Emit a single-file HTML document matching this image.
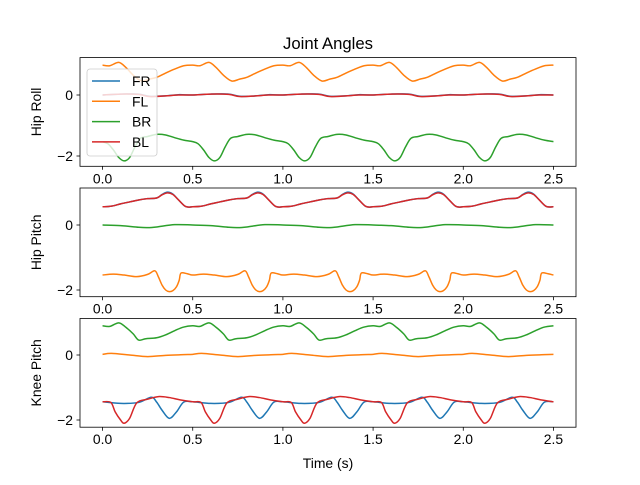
<!DOCTYPE html>
<html><head><meta charset="utf-8"><style>
body{margin:0;background:#fff}
svg text{font-family:"Liberation Sans","DejaVu Sans",sans-serif;fill:#000}
</style></head><body>
<svg id="fig" width="640" height="480" xmlns="http://www.w3.org/2000/svg">
<rect width="640" height="480" fill="#fff"/>
<text x="328" y="49" font-size="16.7" text-anchor="middle">Joint Angles</text>
<text x="328" y="468" font-size="13.9" text-anchor="middle">Time (s)</text>
</svg>
<script>
// data (one gait cycle of 0.5 s, repeated for 5 cycles)
const cycleLength = 0.5;
const cycleCount = 5;
const seriesNames = ["FR","FL","BR","BL"];
const seriesColors = ["#1f77b4","#ff7f0e","#2ca02c","#d62728"];
const xTicks = [0.0,0.5,1.0,1.5,2.0,2.5];
const yTicks = [0,-2];
const panelLabels = ["Hip Roll","Hip Pitch","Knee Pitch"];

// Hip Roll
const hrFRPhase = [0,0.1,0.2,0.26,0.35,0.42,0.5];
const hrFRVal   = [0.0,0.03,0.03,-0.04,-0.03,0.01,0.0];
const hrFLPhase = [0,0.04,0.09,0.13,0.17,0.216,0.26,0.3,0.35,0.4,0.45,0.5];
const hrFLVal   = [0.98,0.96,1.07,0.9,0.65,0.46,0.52,0.58,0.72,0.85,0.96,0.98];
const hrBRPhase = [0,0.03,0.06,0.09,0.12,0.15,0.18,0.21,0.25,0.3,0.35,0.4,0.45,0.5];
const hrBRVal   = [-1.53,-1.6,-1.8,-2.05,-2.16,-2.05,-1.7,-1.42,-1.36,-1.29,-1.31,-1.4,-1.48,-1.53];
const hrBLPhase = [0,0.1,0.2,0.26,0.35,0.42,0.5];
const hrBLVal   = [0.0,0.03,0.02,-0.05,-0.03,0.0,0.0];

// Hip Pitch
const hpFRPhase = [0,0.05,0.1,0.15,0.2,0.25,0.3,0.33,0.36,0.39,0.42,0.46,0.5];
const hpFRVal   = [0.56,0.58,0.65,0.71,0.77,0.81,0.83,0.94,1.01,0.95,0.78,0.57,0.56];
const hpFLPhase = [0,0.06,0.12,0.19,0.25,0.29,0.31,0.33,0.35,0.37,0.39,0.41,0.425,0.435,0.47,0.5];
const hpFLVal   = [-1.54,-1.51,-1.54,-1.59,-1.52,-1.41,-1.6,-1.85,-2.0,-2.05,-2.02,-1.9,-1.7,-1.48,-1.5,-1.54];
const hpBRPhase = [0,0.1,0.2,0.25,0.3,0.4,0.5];
const hpBRVal   = [0.0,-0.02,-0.07,-0.08,-0.06,0.01,0.0];
const hpBLPhase = [0,0.05,0.1,0.15,0.2,0.25,0.3,0.33,0.36,0.39,0.42,0.46,0.5];
const hpBLVal   = [0.56,0.58,0.65,0.71,0.77,0.81,0.83,0.93,0.99,0.94,0.78,0.57,0.56];

// Knee Pitch
const kpFRPhase = [0,0.1,0.2,0.27,0.3,0.33,0.37,0.41,0.45,0.5];
const kpFRVal   = [-1.44,-1.49,-1.46,-1.3,-1.45,-1.7,-1.95,-1.75,-1.45,-1.44];
const kpFLPhase = [0,0.05,0.15,0.25,0.35,0.45,0.5];
const kpFLVal   = [0.02,0.05,0.0,-0.05,-0.01,0.01,0.02];
const kpBRPhase = [0,0.04,0.09,0.13,0.17,0.2,0.24,0.3,0.35,0.4,0.45,0.5];
const kpBRVal   = [0.9,0.88,0.99,0.85,0.65,0.46,0.5,0.53,0.62,0.75,0.86,0.9];
const kpBLPhase = [0,0.046,0.07,0.1,0.12,0.15,0.19,0.25,0.31,0.37,0.43,0.5];
const kpBLVal   = [-1.44,-1.46,-1.75,-2.0,-2.1,-1.95,-1.47,-1.36,-1.28,-1.31,-1.38,-1.44];

const panelSeries = [
  [[hrFRPhase,hrFRVal],[hrFLPhase,hrFLVal],[hrBRPhase,hrBRVal],[hrBLPhase,hrBLVal]],
  [[hpFRPhase,hpFRVal],[hpFLPhase,hpFLVal],[hpBRPhase,hpBRVal],[hpBLPhase,hpBLVal]],
  [[kpFRPhase,kpFRVal],[kpFLPhase,kpFLVal],[kpBRPhase,kpBRVal],[kpBLPhase,kpBLVal]]
];

const NS="http://www.w3.org/2000/svg";
const svg=document.getElementById('fig');
const L=80,R=576;
const panels=[{top:57.6,bot:166.3,y0:95,ppu:30.5},{top:188,bot:296.7,y0:225,ppu:32.5},{top:318.5,bot:427.2,y0:355,ppu:32.5}];
const xMin=-0.125,xMax=2.625;
function xs(t){return L+(t-xMin)/(xMax-xMin)*(R-L);}
function mk(tag,attrs,parent){const e=document.createElementNS(NS,tag);for(const k in attrs)e.setAttribute(k,attrs[k]);(parent||svg).appendChild(e);return e;}
function smooth(pts){let d='M'+pts[0][0].toFixed(2)+','+pts[0][1].toFixed(2);
  for(let i=0;i<pts.length-1;i++){const p0=pts[Math.max(0,i-1)],p1=pts[i],p2=pts[i+1],p3=pts[Math.min(pts.length-1,i+2)];
    const c1x=p1[0]+(p2[0]-p0[0])/6,c1y=p1[1]+(p2[1]-p0[1])/6,c2x=p2[0]-(p3[0]-p1[0])/6,c2y=p2[1]-(p3[1]-p1[1])/6;
    d+=' C'+c1x.toFixed(2)+','+c1y.toFixed(2)+' '+c2x.toFixed(2)+','+c2y.toFixed(2)+' '+p2[0].toFixed(2)+','+p2[1].toFixed(2);}
  return d;}
panels.forEach((p,pi)=>{
  const ys=v=>p.y0-v*p.ppu;
  const g=mk('g',{});
  
  
  const clipId='clip'+pi;
  const cp=mk('clipPath',{id:clipId},g);mk('rect',{x:L,y:p.top,width:R-L,height:p.bot-p.top},cp);
  panelSeries[pi].forEach((s,si)=>{
    const [ph,vals]=s;const pts=[];
    for(let c=0;c<cycleCount;c++){for(let i=0;i<ph.length;i++){if(i===ph.length-1&&c<cycleCount-1)continue;pts.push([xs(c*cycleLength+ph[i]),ys(vals[i])]);}}
    const path=mk('path',{d:smooth(pts),fill:'none',stroke:seriesColors[si],'stroke-width':1.5,'clip-path':'url(#'+clipId+')'},g);
    
    
  });
  const fr=mk('rect',{x:L,y:p.top,width:R-L,height:p.bot-p.top,fill:'none',stroke:'#000','stroke-width':0.8},g);
  
  
  xTicks.forEach(t=>{const x=xs(t);mk('line',{x1:x,x2:x,y1:p.bot,y2:p.bot+3.5,stroke:'#000','stroke-width':0.8},g);
    const tx=mk('text',{x:x,y:p.bot+17,'font-size':13.9,'text-anchor':'middle'},g);tx.textContent=t.toFixed(1);
    
    });
  yTicks.forEach(v=>{const y=ys(v);mk('line',{x1:L-3.5,x2:L,y1:y,y2:y,stroke:'#000','stroke-width':0.8},g);
    const tx=mk('text',{x:L-7,y:y+5,'font-size':13.9,'text-anchor':'end'},g);tx.textContent=v<0?'\u2212'+Math.abs(v):String(v);
    
    });
  const cy=(p.top+p.bot)/2;
  const yl=mk('text',{x:0,y:0,'font-size':13.9,'text-anchor':'middle',transform:'translate(41,'+cy+') rotate(-90)'},g);
  yl.textContent=panelLabels[pi];
  
  
});
// legend
const lg=mk('g',{});


mk('rect',{x:87,y:69,width:70,height:87,rx:3,fill:'#fff','fill-opacity':0.8,stroke:'#ccc','stroke-width':0.8},lg);
seriesNames.forEach((n,i)=>{const y=81+i*20.3;
  mk('line',{x1:92,x2:120,y1:y,y2:y,stroke:seriesColors[i],'stroke-width':1.5},lg);
  const t=mk('text',{x:132,y:y+5,'font-size':13.9},lg);t.textContent=n;
  
  });
</script>
</body></html>
